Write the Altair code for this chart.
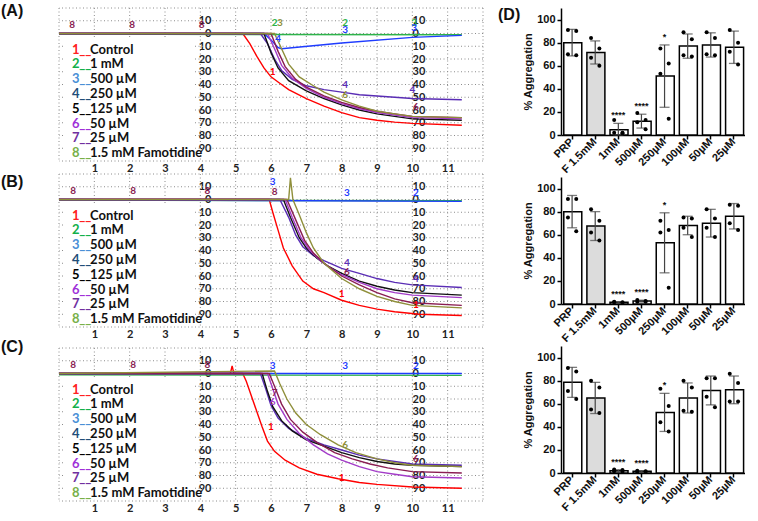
import altair as alt
import pandas as pd

# ---------------- shared trace metadata ----------------
trace_ids = ["1", "2", "3", "4", "5", "6", "7", "8"]
legend_labels = ["Control", "1 mM", "500 µM", "250 µM", "125 µM", "50 µM", "25 µM", "1.5 mM Famotidine"]
legend_colors = ["#ff2020", "#12b04a", "#4a8fd6", "#1f4e79", "#000000", "#a030d8", "#7030a0", "#78b048"]
trace_colors = ["#ff0000", "#2db34a", "#1f3cff", "#5a2db5", "#111111", "#a33bc8", "#8a1d52", "#8f8f3a"]
x_ticks = [1, 2, 3, 4, 5, 6, 7, 8, 9, 10, 11]
y_ticks = [-10, 0, 10, 20, 30, 40, 50, 60, 70, 80, 90]

# ---------------- panel A traces (time, % aggregation) ----------------
A1 = [(0, 0), (5.2, 0), (5.4, 8), (5.6, 18), (5.8, 27), (6.0, 34), (6.2, 38), (6.5, 44), (7.0, 51), (7.5, 57), (8.0, 62), (8.5, 66), (9.0, 68), (9.5, 69.5), (10.0, 70.5), (11.4, 72)]
A2 = [(0, 0.5), (11.4, 1)]
A3 = [(0, 0), (5.8, 0), (6.0, 5), (6.2, 11), (6.3, 12), (8.0, 7.5), (10.0, 3), (11.4, 1.5)]
A4 = [(0, 0), (5.7, 0), (5.9, 8), (6.1, 20), (6.3, 29), (6.6, 36), (7.0, 41), (7.5, 44), (8.0, 46), (8.5, 48), (9.0, 49), (9.5, 50), (10.0, 51), (11.4, 52)]
A5 = [(0, 0), (5.8, 0), (6.0, 15), (6.2, 27), (6.5, 37), (7.0, 45), (7.5, 51), (8.0, 56), (8.5, 60), (9.0, 63), (9.5, 65), (10.0, 67), (11.4, 68)]
A6 = [(0, 0), (5.9, 0), (6.1, 12), (6.3, 25), (6.6, 35), (7.0, 43), (7.5, 50), (8.0, 55), (8.5, 59), (9.0, 62), (9.5, 64), (10.0, 66), (11.4, 67)]
A7 = [(0, 0), (6.0, 0), (6.2, 14), (6.4, 26), (6.7, 36), (7.0, 42), (7.5, 49), (8.0, 54), (8.5, 58), (9.0, 61), (9.5, 63), (10.0, 65), (11.4, 66)]
A8 = [(0, 0), (6.1, 0), (6.3, 12), (6.5, 24), (6.8, 34), (7.2, 41), (7.5, 46), (8.0, 52), (8.5, 57), (9.0, 61), (9.5, 63), (10.0, 65), (11.4, 66)]

# ---------------- panel B traces ----------------
B1 = [(0, 0), (5.95, 0), (6.05, 10), (6.2, 24), (6.35, 38), (6.6, 52), (6.9, 64), (7.2, 70), (7.5, 73), (8.0, 79), (8.5, 83), (9.0, 86), (9.5, 88), (10.2, 90), (11.4, 91)]
B2 = [(0, 0.5), (11.4, 1)]
B3 = [(0, 0), (11.4, 1.5)]
B4 = [(0, 0), (6.25, 0), (6.5, 14), (6.7, 28), (6.9, 37), (7.2, 44), (7.5, 48), (8.0, 54), (8.5, 58), (9.0, 62), (9.5, 65), (10.0, 67), (11.4, 69)]
B5 = [(0, 0), (6.35, 0), (6.55, 14), (6.8, 30), (7.0, 38), (7.3, 46), (7.6, 52), (8.0, 58), (8.5, 64), (9.0, 68), (9.5, 71), (10.0, 73), (11.4, 75)]
B6 = [(0, 0), (6.4, 0), (6.6, 14), (6.85, 30), (7.1, 40), (7.4, 48), (7.7, 54), (8.0, 59), (8.5, 65), (9.0, 70), (9.5, 73), (10.0, 75), (11.4, 77)]
B7 = [(0, 0), (6.45, 0), (6.7, 16), (6.95, 32), (7.2, 42), (7.5, 50), (8.0, 60), (8.5, 67), (9.0, 73), (9.5, 78), (10.0, 81), (11.4, 83)]
B8 = [(0, 0), (6.5, 0), (6.55, -17), (6.62, 0), (6.8, 12), (7.0, 26), (7.2, 38), (7.5, 50), (8.0, 62), (8.5, 70), (9.0, 76), (9.5, 80), (10.0, 83), (11.4, 85)]

# ---------------- panel C traces ----------------
C1 = [(0, 0), (4.85, 0), (4.9, -6), (4.95, 0), (5.2, 0), (5.3, 6), (5.45, 18), (5.6, 30), (5.75, 42), (5.9, 53), (6.1, 61), (6.4, 68), (6.8, 74), (7.3, 79), (7.9, 82.5), (8.5, 85.5), (9.0, 87), (10.0, 89), (11.4, 90)]
C2 = [(0, 1), (11.4, 1.5)]
C3 = [(0, 0), (11.4, 0)]
C4 = [(0, 0), (5.7, 0), (5.85, 12), (6.0, 25), (6.2, 35), (6.5, 43), (7.0, 51), (7.5, 56), (8.0, 60), (8.5, 64), (9.0, 67), (9.5, 69), (10.0, 71), (11.4, 72)]
C5 = [(0, 0), (5.75, 0), (5.9, 14), (6.05, 26), (6.3, 37), (6.6, 45), (7.0, 52), (7.5, 57), (8.0, 62), (8.5, 66), (9.0, 69), (9.5, 71), (10.0, 72), (11.4, 73)]
C6 = [(0, 0), (5.9, 0), (6.05, 12), (6.2, 24), (6.45, 36), (6.8, 47), (7.2, 56), (7.6, 63), (8.0, 68), (8.5, 73), (9.0, 77), (9.5, 79), (10.0, 81), (11.4, 82)]
C7 = [(0, 0), (5.95, 0), (6.1, 10), (6.3, 24), (6.55, 36), (6.9, 46), (7.3, 54), (7.8, 62), (8.3, 67), (8.8, 71), (9.3, 74), (10.0, 77), (11.4, 78)]
C8 = [(0, 0), (6.1, -2), (6.25, 8), (6.45, 20), (6.7, 31), (7.0, 40), (7.4, 48), (7.9, 56), (8.4, 62), (9.0, 67), (9.5, 70), (10.0, 72), (11.4, 73)]

# ---------------- event / trace number markers (time, value, label, colour) ----------------
A_marks = [(0.37, -7, "8", "#8a1d52"), (2.07, -7, "8", "#8a1d52"), (4.04, -7, "8", "#8a1d52"),
           (6.1, -8, "2", "#2db34a"), (6.25, -8, "3", "#8f8f3a"), (6.2, 4, "4", "#1f3cff"),
           (8.1, -8, "2", "#2db34a"), (8.1, -3, "3", "#1f3cff"), (10.05, -8, "3", "#2db34a"),
           (10.05, -4, "3", "#1f3cff"), (8.1, 40, "4", "#5a2db5"), (10.0, 44, "4", "#5a2db5"),
           (8.1, 48, "6", "#8f8f3a"), (10.1, 58, "6", "#8a1d52"), (6.05, 30, "1", "#ff0000")]
B_marks = [(0.4, -7, "8", "#8a1d52"), (2.1, -7, "8", "#8a1d52"), (4.2, -7, "8", "#8a1d52"),
           (6.05, -14, "3", "#1f3cff"), (6.1, -6, "8", "#8a1d52"), (8.15, -5, "3", "#1f3cff"),
           (10.1, -5, "2", "#1f3cff"), (8.15, 50, "4", "#5a2db5"), (8.15, 57, "6", "#8a1d52"),
           (10.1, 62, "4", "#5a2db5"), (8.0, 74, "1", "#ff0000"), (10.1, 83, "1", "#ff0000")]
C_marks = [(0.4, -7, "8", "#8a1d52"), (2.1, -7, "8", "#8a1d52"), (4.2, -7, "8", "#8a1d52"),
           (6.05, -6, "3", "#1f3cff"), (8.1, -6, "3", "#1f3cff"), (10.1, -6, "2", "#1f3cff"),
           (6.1, 15, "7", "#8a1d52"), (6.05, 22, "6", "#a33bc8"), (6.0, 42, "1", "#ff0000"),
           (8.1, 56, "6", "#8f8f3a"), (8.0, 82, "1", "#ff0000"), (10.1, 67, "6", "#8a1d52")]

# ---------------- bar panels (D) ----------------
bar_labels = ["PRP", "F 1.5mM", "1mM", "500µM", "250µM", "100µM", "50µM", "25µM"]
bar_fills = ["#ffffff", "#dcdcdc", "#ffffff", "#ffffff", "#ffffff", "#ffffff", "#ffffff", "#ffffff"]
bar_stars = ["", "", "****", "****", "*", "", "", ""]

D1_mean = [80, 71.5, 4.6, 12, 51, 77, 78, 76]
D1_sd = [11.5, 10, 5.5, 6, 27, 10.5, 10.5, 14]
D1_pts = [[91, 90, 70, 69], [84, 75, 67, 60], [13, 2, 2, 1.5], [19, 13, 11, 5],
          [75, 62, 53, 14], [89, 83, 69, 68], [89, 84, 70, 69], [91, 80, 72, 61]]

D2_mean = [80, 67.5, 1.5, 2.5, 53, 68, 70, 76]
D2_sd = [14, 12.5, 0.5, 0.8, 26, 8, 12, 11]
D2_pts = [[91, 91, 75, 63], [82, 72, 62, 55], [2, 1, 1.5, 1.5], [3.5, 2.5, 2, 2],
          [72, 64, 62, 14], [75, 74, 66, 58], [82, 74, 66, 58], [86, 85, 70, 64]]

D3_mean = [78.5, 65, 2, 1.5, 52.5, 65, 71.5, 72]
D3_sd = [13, 13.5, 0.8, 0.5, 16.5, 13, 12.5, 12]
D3_pts = [[91, 88, 71, 64], [80, 74, 55, 52], [3, 2.5, 1.5, 1], [2, 1.5, 1, 1],
          [73, 58, 44, 36], [80, 74, 54, 53], [82, 82, 66, 57], [86, 78, 62, 62]]

TRACE_FONT = "Lato"
BAR_FONT = "Liberation Sans"


def trace_panel(traces, marks, letter, letter_y):
    rows = []
    for tid, pts in zip(trace_ids, traces):
        for t, v in pts:
            rows.append({"t": t, "v": v, "id": tid})
    df = pd.DataFrame(rows)
    xs = alt.Scale(domain=[0, 12], nice=False, zero=False)
    ys = alt.Scale(domain=[-20, 100], reverse=True, nice=False, zero=False)
    xaxis = alt.Axis(orient="bottom", values=x_ticks, title=None, grid=False, domain=False, ticks=False,
                     labelPadding=1, labelFont=TRACE_FONT, labelFontSize=11, labelFontWeight="bold",
                     labelColor="#222", labelFlush=False)

    def X(field):
        return alt.X(field, scale=xs, axis=xaxis, title=None)

    vgrid = alt.Chart(pd.DataFrame({"t": list(range(0, 13))})).mark_rule(
        color="#8c8c8c", strokeDash=[1, 2.5], strokeWidth=1
    ).encode(x=X("t:Q"))
    hgrid = alt.Chart(pd.DataFrame({"v": list(range(-20, 101, 10))})).mark_rule(
        color="#8c8c8c", strokeDash=[1, 2.5], strokeWidth=1
    ).encode(y=alt.Y("v:Q", scale=ys, axis=None))
    bg = alt.Chart(pd.DataFrame({"t": [0.15], "t2": [3.85], "v": [4], "v2": [99]})).mark_rect(
        fill="white"
    ).encode(x=X("t:Q"), x2="t2:Q", y=alt.Y("v:Q", scale=ys, axis=None), y2="v2:Q")

    lines = alt.Chart(df).mark_line(strokeWidth=1.4).encode(
        x=X("t:Q"),
        y=alt.Y("v:Q", scale=ys, axis=alt.Axis(
            orient="left", values=y_ticks, labelExpr="'' + abs(datum.value)", offset=-152,
            title=None, grid=False, domain=False, ticks=False, labelPadding=0,
            labelFont=TRACE_FONT, labelFontSize=11, labelFontWeight="bold", labelColor="#222")),
        color=alt.Color("id:N", scale=alt.Scale(domain=trace_ids, range=trace_colors), legend=None),
    )

    mk = pd.DataFrame(marks, columns=["t", "v", "lab", "c"])
    mlay = alt.Chart(mk).mark_text(fontSize=10, font=TRACE_FONT, fontWeight="bold").encode(
        x=X("t:Q"),
        y=alt.Y("v:Q", scale=ys, axis=alt.Axis(
            orient="right", values=y_ticks, labelExpr="'' + abs(datum.value)", offset=-71,
            title=None, grid=False, domain=False, ticks=False, labelPadding=0,
            labelFont=TRACE_FONT, labelFontSize=11, labelFontWeight="bold", labelColor="#222")),
        text="lab:N",
        color=alt.Color("c:N", scale=None),
    )

    lg = pd.DataFrame({"num": trace_ids, "lab": legend_labels, "c": legend_colors,
                       "v": [12.6 + 11.6 * i for i in range(8)]})
    lg["tn"] = 0.37
    lg["tb"] = 0.57
    lg["tl"] = 0.88
    base = alt.Chart(lg)
    lnum = base.mark_text(align="left", baseline="middle", fontSize=13, font=TRACE_FONT,
                          fontWeight="bold").encode(
        x=X("tn:Q"), y=alt.Y("v:Q", scale=ys, axis=None),
        text="num:N", color=alt.Color("c:N", scale=None))
    lbar = base.mark_text(align="left", baseline="middle", fontSize=13, font=TRACE_FONT,
                          fontWeight="bold").encode(
        x=X("tb:Q"), y=alt.Y("v:Q", scale=ys, axis=None),
        text=alt.value("__"), color=alt.Color("c:N", scale=None))
    llab = base.mark_text(align="left", baseline="middle", fontSize=13, font=TRACE_FONT,
                          fontWeight="bold", color="#111").encode(
        x=X("tl:Q"), y=alt.Y("v:Q", scale=ys, axis=None),
        text="lab:N")

    let = alt.Chart(pd.DataFrame({"s": [letter]})).mark_text(
        align="left", baseline="middle", fontSize=16, fontWeight="bold", font=BAR_FONT, color="#111"
    ).encode(x=alt.value(-58), y=alt.value(letter_y), text="s:N")

    return alt.layer(vgrid, hgrid, bg, lines, mlay, lnum, lbar, llab, let).resolve_axis(
        y="independent").resolve_scale(color="independent").properties(width=424, height=153)


def bar_panel(means, sds, pts, show_letter):
    bdf = pd.DataFrame({"cat": bar_labels, "mean": means, "sd": sds, "star": bar_stars})
    prow = []
    for cat, vals in zip(bar_labels, pts):
        for k, v in enumerate(vals):
            prow.append({"cat": cat, "val": v, "j": "L" if k % 2 == 0 else "R"})
    pdf = pd.DataFrame(prow)
    xs = alt.Scale(domain=bar_labels, paddingInner=0.28, paddingOuter=0.12)
    ys = alt.Scale(domain=[0, 110], nice=False, zero=True)
    xaxis = alt.Axis(title=None, labelAngle=-45, labelAlign="right", labelBaseline="middle",
                     labelFont=BAR_FONT, labelFontSize=11, labelFontWeight="bold", labelColor="#111",
                     domainColor="#000", domainWidth=1.5, tickColor="#000", tickWidth=1.5, tickSize=4,
                     labelPadding=1)
    yaxis = alt.Axis(title="% Aggregation", values=[0, 20, 40, 60, 80, 100], grid=False,
                     labelFont=BAR_FONT, labelFontSize=11, labelFontWeight="bold", labelColor="#111",
                     titleFont=BAR_FONT, titleFontSize=11, titleFontWeight="bold", titleColor="#111",
                     titlePadding=3, domainColor="#000", domainWidth=1.5, tickColor="#000",
                     tickWidth=1.5, tickSize=4, labelPadding=2)
    X = alt.X("cat:N", scale=xs, sort=bar_labels, axis=xaxis, title=None)

    def Y(field):
        return alt.Y(field, scale=ys, axis=yaxis, title="% Aggregation")

    bars = alt.Chart(bdf).mark_bar(stroke="#000", strokeWidth=1.5).encode(
        x=X, y=Y("mean:Q"),
        fill=alt.Fill("cat:N", scale=alt.Scale(domain=bar_labels, range=bar_fills), legend=None))
    eb = alt.Chart(bdf).transform_calculate(
        lo="max(0, datum.mean - datum.sd)", hi="datum.mean + datum.sd")
    err = eb.mark_rule(color="#444", strokeWidth=1.2).encode(x=X, y=Y("lo:Q"), y2="hi:Q")
    cap_lo = eb.mark_tick(color="#444", thickness=1.3, size=10).encode(x=X, y=Y("lo:Q"))
    cap_hi = eb.mark_tick(color="#444", thickness=1.3, size=10).encode(x=X, y=Y("hi:Q"))
    dots = alt.Chart(pdf).mark_circle(size=16, color="#000", opacity=1).encode(
        x=X, xOffset=alt.XOffset("j:N", scale=alt.Scale(domain=["L", "R"])),
        y=Y("val:Q"))
    stars = eb.mark_text(fontSize=9, fontWeight="bold", font=BAR_FONT, baseline="bottom", dy=-3,
                         color="#111").encode(x=X, y=Y("hi:Q"), text="star:N")
    let = alt.Chart(pd.DataFrame({"s": ["(D)"]})).mark_text(
        align="left", baseline="middle", fontSize=16, fontWeight="bold", font=BAR_FONT,
        color="#111", opacity=1 if show_letter else 0
    ).encode(x=alt.value(-63), y=alt.value(7), text="s:N")
    return alt.layer(bars, err, cap_lo, cap_hi, dots, stars, let).resolve_scale(
        fill="independent").properties(width=184, height=127)


pA = trace_panel([A1, A2, A3, A4, A5, A6, A7, A8], A_marks, "(A)", 3)
pB = trace_panel([B1, B2, B3, B4, B5, B6, B7, B8], B_marks, "(B)", 8)
pC = trace_panel([C1, C2, C3, C4, C5, C6, C7, C8], C_marks, "(C)", -1)

d1 = bar_panel(D1_mean, D1_sd, D1_pts, True)
d2 = bar_panel(D2_mean, D2_sd, D2_pts, False)
d3 = bar_panel(D3_mean, D3_sd, D3_pts, False)

left = alt.vconcat(pA, pB, pC, spacing=0)
right = alt.vconcat(d1, d2, d3, spacing=1)

chart = alt.hconcat(left, right, spacing=14).properties(
    padding={"left": 1, "top": 3, "right": 0, "bottom": 0}
).configure_view(stroke=None)

chart.save("out.html", embed_options={"renderer": "svg", "actions": False})
